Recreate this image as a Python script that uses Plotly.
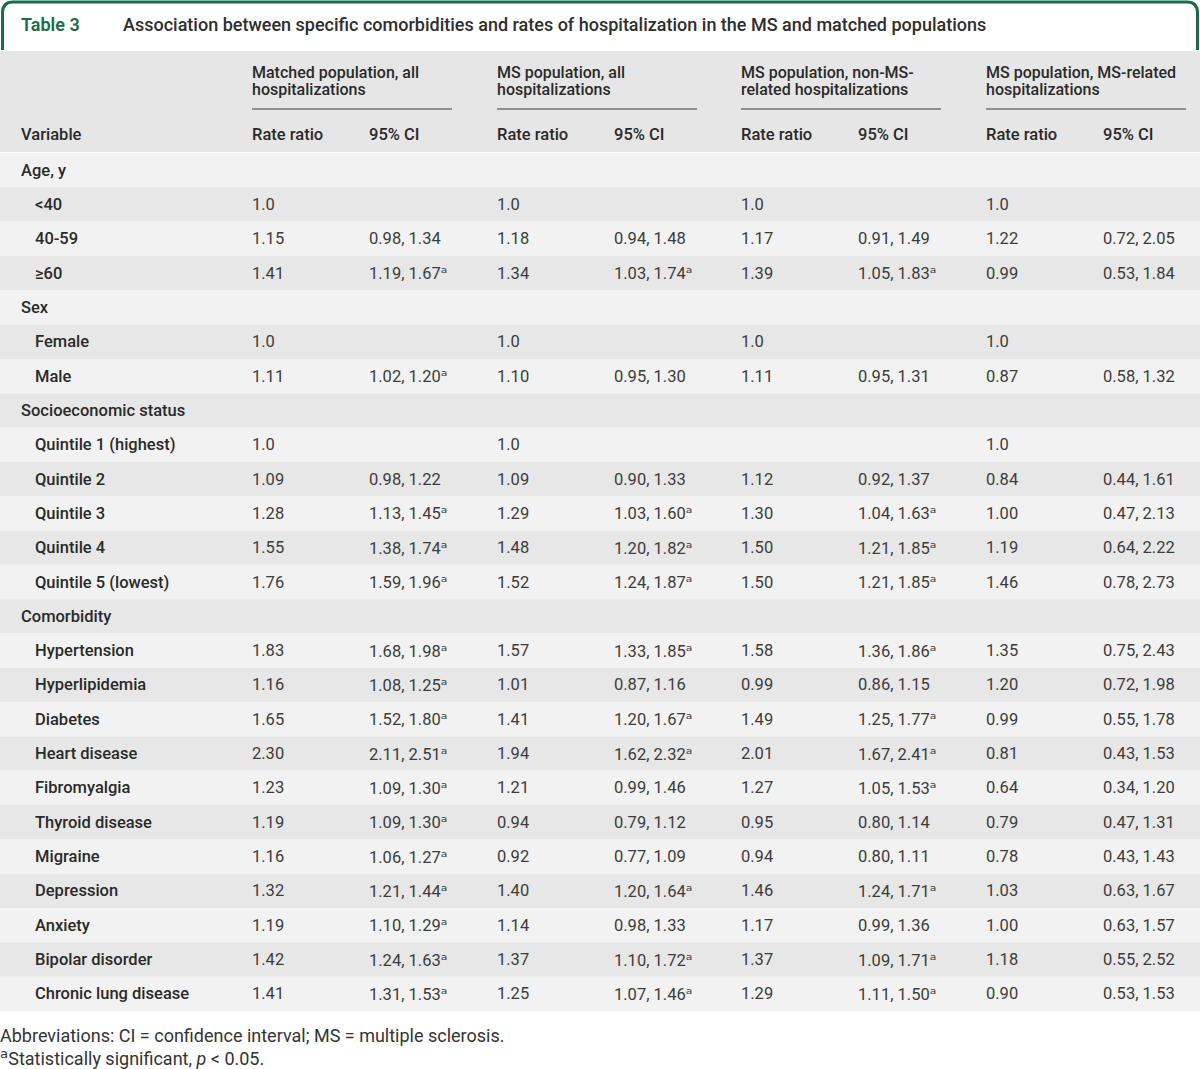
import plotly.graph_objects as go

# ---------------- data ----------------
row_labels = ["Age, y", "<40", "40-59", "≥60", "Sex", "Female", "Male",
              "Socioeconomic status", "Quintile 1 (highest)", "Quintile 2", "Quintile 3",
              "Quintile 4", "Quintile 5 (lowest)", "Comorbidity", "Hypertension",
              "Hyperlipidemia", "Diabetes", "Heart disease", "Fibromyalgia",
              "Thyroid disease", "Migraine", "Depression", "Anxiety",
              "Bipolar disorder", "Chronic lung disease"]
row_is_group = [True, False, False, False, True, False, False,
                True, False, False, False, False, False, True,
                False, False, False, False, False, False, False, False, False, False, False]

# "*" marks statistically significant (superscript a)
matched_rr = ["", "1.0", "1.15", "1.41", "", "1.0", "1.11", "", "1.0", "1.09", "1.28", "1.55", "1.76",
              "", "1.83", "1.16", "1.65", "2.30", "1.23", "1.19", "1.16", "1.32", "1.19", "1.42", "1.41"]
matched_ci = ["", "", "0.98, 1.34", "1.19, 1.67*", "", "", "1.02, 1.20*", "", "", "0.98, 1.22",
              "1.13, 1.45*", "1.38, 1.74*", "1.59, 1.96*", "", "1.68, 1.98*", "1.08, 1.25*",
              "1.52, 1.80*", "2.11, 2.51*", "1.09, 1.30*", "1.09, 1.30*", "1.06, 1.27*",
              "1.21, 1.44*", "1.10, 1.29*", "1.24, 1.63*", "1.31, 1.53*"]
ms_all_rr = ["", "1.0", "1.18", "1.34", "", "1.0", "1.10", "", "1.0", "1.09", "1.29", "1.48", "1.52",
             "", "1.57", "1.01", "1.41", "1.94", "1.21", "0.94", "0.92", "1.40", "1.14", "1.37", "1.25"]
ms_all_ci = ["", "", "0.94, 1.48", "1.03, 1.74*", "", "", "0.95, 1.30", "", "", "0.90, 1.33",
             "1.03, 1.60*", "1.20, 1.82*", "1.24, 1.87*", "", "1.33, 1.85*", "0.87, 1.16",
             "1.20, 1.67*", "1.62, 2.32*", "0.99, 1.46", "0.79, 1.12", "0.77, 1.09",
             "1.20, 1.64*", "0.98, 1.33", "1.10, 1.72*", "1.07, 1.46*"]
non_ms_rr = ["", "1.0", "1.17", "1.39", "", "1.0", "1.11", "", "", "1.12", "1.30", "1.50", "1.50",
             "", "1.58", "0.99", "1.49", "2.01", "1.27", "0.95", "0.94", "1.46", "1.17", "1.37", "1.29"]
non_ms_ci = ["", "", "0.91, 1.49", "1.05, 1.83*", "", "", "0.95, 1.31", "", "", "0.92, 1.37",
             "1.04, 1.63*", "1.21, 1.85*", "1.21, 1.85*", "", "1.36, 1.86*", "0.86, 1.15",
             "1.25, 1.77*", "1.67, 2.41*", "1.05, 1.53*", "0.80, 1.14", "0.80, 1.11",
             "1.24, 1.71*", "0.99, 1.36", "1.09, 1.71*", "1.11, 1.50*"]
ms_rel_rr = ["", "1.0", "1.22", "0.99", "", "1.0", "0.87", "", "1.0", "0.84", "1.00", "1.19", "1.46",
             "", "1.35", "1.20", "0.99", "0.81", "0.64", "0.79", "0.78", "1.03", "1.00", "1.18", "0.90"]
ms_rel_ci = ["", "", "0.72, 2.05", "0.53, 1.84", "", "", "0.58, 1.32", "", "", "0.44, 1.61",
             "0.47, 2.13", "0.64, 2.22", "0.78, 2.73", "", "0.75, 2.43", "0.72, 1.98",
             "0.55, 1.78", "0.43, 1.53", "0.34, 1.20", "0.47, 1.31", "0.43, 1.43",
             "0.63, 1.67", "0.63, 1.57", "0.55, 2.52", "0.53, 1.53"]

group_titles = [("Matched population, all", "hospitalizations"),
                ("MS population, all", "hospitalizations"),
                ("MS population, non-MS-", "related hospitalizations"),
                ("MS population, MS-related", "hospitalizations")]
sub_headers = ["Rate ratio", "95% CI"]
table_label = "Table 3"
table_title = "Association between specific comorbidities and rates of hospitalization in the MS and matched populations"
footnotes = ["Abbreviations: CI = confidence interval; MS = multiple sclerosis.",
             "*Statistically significant, <i>p</i> &lt; 0.05."]

# ---------------- layout constants ----------------
W, H = 1200, 1069
GREEN = "#1d6b48"
FONT = "Roboto"
LABEL_C = "#2a2a2a"
VAL_C = "#3c3c3c"
HEAD_BG = "#e6e6e6"
ROW_A = "#f2f2f2"
ROW_B = "#e7e7e7"
BODY_SIZE = 16.5
SUP = '<span style="font-family:DejaVu Sans;font-size:17px">ᵃ</span>'
SUP_FOOT = '<span style="font-family:DejaVu Sans;font-size:21px">ᵃ</span>'
body_top = 153
row_h = (1011 - 153) / 25
group_x = [252, 497, 741, 986]
ci_dx = 117
group_w = 200

fig = go.Figure()
fig.add_trace(go.Scatter(x=[0, W], y=[0, H], mode="markers", marker=dict(opacity=0),
                         hoverinfo="skip", showlegend=False))

shapes = []
annotations = []

def ann(x, y, text, size=BODY_SIZE, color=VAL_C, weight=400, xanchor="left"):
    annotations.append(dict(x=x, y=y, xref="x", yref="y", text=text, showarrow=False,
                            xanchor=xanchor, yanchor="middle", xshift=-2,
                            font=dict(family=FONT, size=size, color=color, weight=weight)))

# title box
shapes.append(dict(type="path", xref="x", yref="y",
                   path="M 2.5,50 L 2.5,13 Q 2.5,2 13,2 L 1187,2 Q 1197.5,2 1197.5,13 L 1197.5,50",
                   line=dict(color=GREEN, width=3), fillcolor="rgba(0,0,0,0)"))
ann(21, 24, table_label, size=18, color=GREEN, weight=600)
ann(123, 24, table_title, size=18, color="#2e2e2e", weight=500)

# header background
shapes.append(dict(type="rect", xref="x", yref="y", x0=0, x1=W, y0=51, y1=152,
                   fillcolor=HEAD_BG, line=dict(width=0), layer="below"))
for gx, (l1, l2) in zip(group_x, group_titles):
    ann(gx, 72, l1, size=16, color=LABEL_C, weight=500)
    ann(gx, 89, l2, size=16, color=LABEL_C, weight=500)
    shapes.append(dict(type="line", xref="x", yref="y", x0=gx, x1=gx + group_w, y0=109, y1=109,
                       line=dict(color="#3a3a3a", width=1)))
    ann(gx, 134, sub_headers[0], color=LABEL_C, weight=500)
    ann(gx + ci_dx, 134, sub_headers[1], color=LABEL_C, weight=500)
ann(21, 134, "Variable", color=LABEL_C, weight=500)

# body rows
cols = [(matched_rr, matched_ci), (ms_all_rr, ms_all_ci), (non_ms_rr, non_ms_ci), (ms_rel_rr, ms_rel_ci)]
for i, lab in enumerate(row_labels):
    y0 = body_top + i * row_h
    yc = y0 + row_h / 2
    shapes.append(dict(type="rect", xref="x", yref="y", x0=0, x1=W, y0=y0, y1=y0 + row_h,
                       fillcolor=ROW_A if i % 2 == 0 else ROW_B, line=dict(width=0), layer="below"))
    ann(21 if row_is_group[i] else 35, yc, lab.replace("<", "&lt;"), color=LABEL_C, weight=500)
    for gx, (rr, ci) in zip(group_x, cols):
        if rr[i]:
            ann(gx, yc, rr[i])
        if ci[i]:
            ann(gx + ci_dx, yc, ci[i].replace("*", SUP))

# footnotes
ann(0, 1035, footnotes[0], size=18, color="#333333")
ann(0, 1058, footnotes[1].replace("*", SUP_FOOT), size=18, color="#333333")

fig.update_layout(
    width=W, height=H, margin=dict(l=0, r=0, t=0, b=0),
    paper_bgcolor="white", plot_bgcolor="white",
    xaxis=dict(range=[0, W], visible=False, fixedrange=True),
    yaxis=dict(range=[H, 0], visible=False, fixedrange=True),
    shapes=shapes, annotations=annotations, showlegend=False,
)
fig.write_html("out.html", config={"displayModeBar": False},
               post_script="document.body.style.margin='0';document.body.style.overflow='hidden';")
